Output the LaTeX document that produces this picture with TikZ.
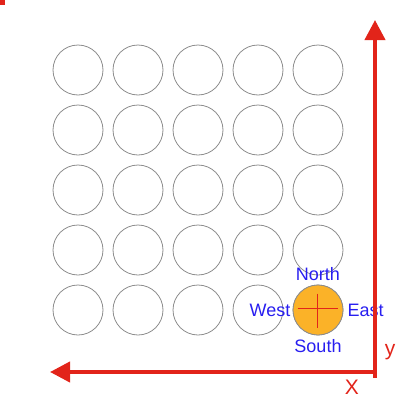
\documentclass[tikz,border=0pt]{standalone}
\usepackage{fontspec}
\setmainfont{Liberation Sans}
\usetikzlibrary{arrows.meta, calc}

\definecolor{axisred}{RGB}{226,36,26}
\definecolor{dirblue}{RGB}{40,30,240}
\definecolor{cellorange}{RGB}{251,178,40}

\tikzset{
  cell/.style={circle, draw=gray!90, line width=0.8pt, minimum size=50pt, inner sep=0pt},
  dirlabel/.style={text=dirblue, font=\fontsize{18}{18}\selectfont, inner sep=0pt},
  axislabel/.style={text=axisred, font=\fontsize{21}{21}\selectfont, inner sep=0pt}
}

\begin{document}
\begin{tikzpicture}[x=1pt, y=-1pt]

    \useasboundingbox (0,0) rectangle (402,410);

    % Griglia di cerchi
    \foreach \i in {0,...,4}
        \foreach \j in {0,...,4}
            \node[cell] (c-\i-\j) at (78+60*\i, 70+60*\j) {};

    % Cerchio scelto
    \node[cell, fill=cellorange] (sel) at (318,310) {};
    \draw[axisred, line width=0.8pt] (sel.west) ++(5,-2) -- ++(40,0);
    \draw[axisred, line width=0.8pt] (sel.north) ++(-1,9) -- ++(0,34);

    % Etichette direzioni
    \node[dirlabel, above=4pt] (north) at (sel.north) {North};
    \node[dirlabel, below=4pt] (south) at (sel.south) {South};
    \node[dirlabel, left=2pt] (west) at (sel.west) {West};
    \node[dirlabel, right=4pt] (east) at (sel.east) {East};

    % Assi
    \coordinate (O) at (375,372);
    \coordinate (xend) at (50,372);
    \coordinate (yend) at (375,20);
    \draw[axisred, line width=4pt, -{Triangle[length=20pt, width=20pt]}] ($(O)+(2,0)$) -- (xend);
    \draw[axisred, line width=4pt, -{Triangle[length=20pt, width=20pt]}] ($(O)+(0,6)$) -- (yend);

    % Etichette assi
    \node[axislabel] (ylab) at (390,352) {y};
    \node[axislabel] (xlab) at (352,387) {X};

    % Segno in alto a sinistra
    \fill[axisred] (0,0) rectangle (5,5);

\end{tikzpicture}
\end{document}
